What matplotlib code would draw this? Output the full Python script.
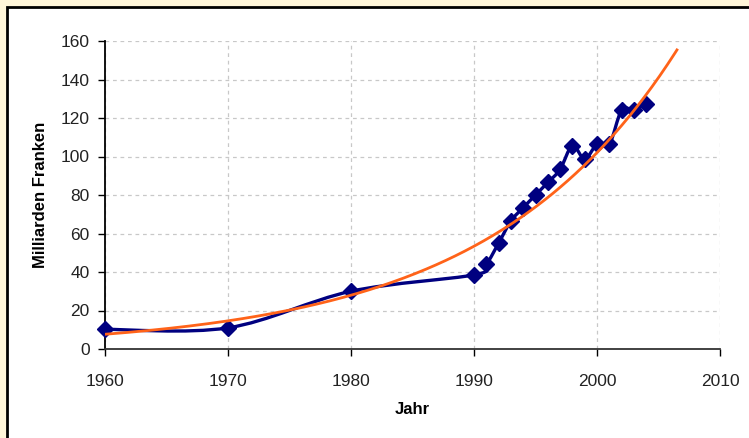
import numpy as np
import matplotlib
matplotlib.use("Agg")
import matplotlib.pyplot as plt
from matplotlib.path import Path
from matplotlib.patches import PathPatch, Rectangle

plt.rcParams['font.family'] = ['Liberation Sans', 'DejaVu Sans']

# Daten
jahre = [1960, 1970, 1980, 1990, 1991, 1992, 1993, 1994, 1995, 1996, 1997,
         1998, 1999, 2000, 2001, 2002, 2003, 2004]
werte = [10.2, 11.0, 30.0, 38.5, 44.0, 55.0, 66.5, 73.4, 80.0, 86.5, 93.3,
         105.6, 98.7, 106.3, 106.3, 124.0, 124.3, 127.3]
x_ticks = [1960, 1970, 1980, 1990, 2000, 2010]
y_ticks = [0, 20, 40, 60, 80, 100, 120, 140, 160]
trend_ende = 2006.5

navy = '#000080'
orange = '#FF6319'
creme = '#FFF6D9'

fig = plt.figure(figsize=(7.49, 4.38), dpi=100, facecolor=creme)
fig.patches.append(Rectangle((6.5 / 749, -0.1), 1.2, (438 - 7.5) / 438 + 0.1,
                             transform=fig.transFigure, facecolor='white',
                             edgecolor='black', linewidth=2, zorder=-10))

ax = fig.add_axes([105 / 749, (438 - 349) / 438, 615 / 749, 308 / 438])
ax.set_facecolor('none')
ax.set_zorder(1)

# geglaettete Linie (Bezier wie Excel)
x = np.array(jahre, dtype=float)
y = np.array(werte, dtype=float)
pts = np.column_stack([x, y])
n = len(pts)
verts = [pts[0]]
codes = [Path.MOVETO]
for i in range(n - 1):
    p0 = pts[max(i - 1, 0)]
    p1 = pts[i]
    p2 = pts[i + 1]
    p3 = pts[min(i + 2, n - 1)]
    c1 = p1 + (p2 - p0) / 6.0
    c2 = p2 - (p3 - p1) / 6.0
    verts += [c1, c2, p2]
    codes += [Path.CURVE4] * 3
ax.add_patch(PathPatch(Path(verts, codes), facecolor='none', edgecolor=navy,
                       linewidth=2.4, zorder=3))
ax.plot(x, y, linestyle='none', marker='D', markersize=8.5, color=navy,
        zorder=4, clip_on=False)

# exponentielle Trendlinie
b, ln_a = np.polyfit(x - 1960, np.log(y), 1)
xt = np.linspace(1960, trend_ende, 300)
ax.plot(xt, np.exp(ln_a) * np.exp(b * (xt - 1960)), color=orange,
        linewidth=2.0, zorder=5)

ax.set_xlim(1960, 2010)
ax.set_ylim(0, 160)
ax.set_xticks(x_ticks)
ax.set_yticks(y_ticks)
ax.grid(True, color='#C8C8C8', linestyle=(0, (3, 3)), linewidth=0.9)
ax.set_axisbelow(True)
for s in ['top', 'right']:
    ax.spines[s].set_visible(False)
ax.spines['left'].set_linewidth(1.3)
ax.spines['bottom'].set_linewidth(1.3)
ax.spines['bottom'].set_color('#333333')
ax.tick_params(direction='out', length=5, width=1, labelsize=12.5,
               labelcolor='#222222', pad=6)
ax.tick_params(axis='x', pad=13)
ax.set_xlabel('Jahr', fontsize=12, fontweight='bold', labelpad=9)
ax.set_ylabel('Milliarden Franken', fontsize=12, fontweight='bold',
              labelpad=9)

fig.savefig('out.png', dpi=100, facecolor=creme)
